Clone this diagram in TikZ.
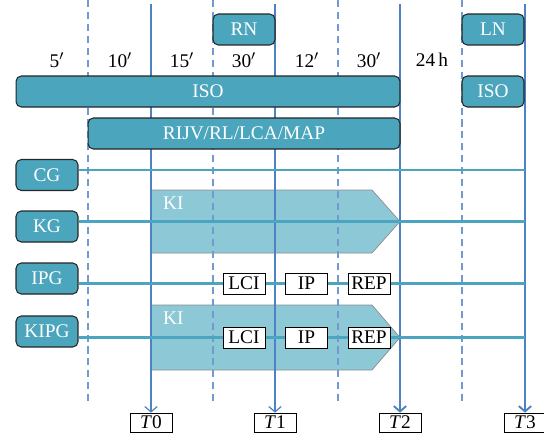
\documentclass[tikz,border=0pt]{standalone}
\usepackage{amsmath}
\usepackage{fontspec}
\setmainfont{Liberation Serif}
\usepackage{xcolor}
\usetikzlibrary{positioning, calc, arrows.meta}
\definecolor{boxteal}{RGB}{75,165,189}
\definecolor{kiteal}{RGB}{140,200,214}
\definecolor{lineteal}{RGB}{75,165,192}
\definecolor{timeblue}{RGB}{79,129,197}

\begin{document}
\begin{tikzpicture}[
    x=0.02cm, y=-0.02cm,
    font=\fontsize{11}{13}\selectfont,
    stage/.style={draw=black!85, fill=boxteal, rounded corners=3pt, text=white, minimum height=0.62cm, minimum width=1.24cm, inner sep=1pt, line width=0.6pt},
    tag/.style={draw, fill=white, minimum width=0.84cm, minimum height=0.42cm, inner sep=1pt},
    tmark/.style={draw, fill=white, minimum width=0.84cm, minimum height=0.38cm, inner sep=1pt},
    gridline/.style={timeblue!80, line width=0.6pt, dash pattern=on 4pt off 2.8pt},
    tline/.style={timeblue, line width=0.7pt, -{Straight Barb[length=3pt,width=7pt]}},
    hline/.style={lineteal, line width=1.2pt},
    kishape/.style={draw=black!45, fill=kiteal},
    kitext/.style={text=white, anchor=west}
]
    \useasboundingbox (0,0) rectangle (544,433);

    % KI phases
    \draw[kishape] (151,190) -- (372,190) -- (400,221.5) -- (372,253) -- (151,253) -- cycle;
    \node[kitext] (ki1) at (157,203) {KI};
    \draw[kishape] (151,305) -- (372,305) -- (400,337.5) -- (372,370) -- (151,370) -- cycle;
    \node[kitext] (ki2) at (157,318) {KI};

    % Grid
    \foreach \x in {88,213,338,462}
        \draw[gridline] (\x,0) -- (\x,401);

    % Time marks
    \foreach \n/\x in {0/151,1/275,2/400,3/525} {
        \node[tmark] (t\n) at (\x,422.5) {\textit{T}\n};
        \coordinate (top\n) at (\x,4);
    }
    \draw[tline] (top0) -- (t0.north);
    \draw[tline] (top1) -- (t1.north);
    \draw[tline, line width=1.1pt] (top2) -- (t2.north);
    \draw[tline, line width=1.1pt] (top3) -- (t3.north);

    % Interval labels
    \foreach \x/\lab in {57/5$'$, 120/10$'$, 182/15$'$, 244/30$'$, 307/12$'$, 369/30$'$, 432/24\,h}
        \node (lab\x) at (\x,60) {\lab};

    % Stages
    \node[stage] (rn) at (244,29.5) {RN};
    \node[stage] (ln) at (493,29.5) {LN};
    \node[stage, minimum width=7.68cm] (iso) at (208,91.5) {ISO};
    \node[stage] (iso2) at (493,91.5) {ISO};
    \node[stage, minimum width=6.24cm] (rijv) at (244,133.5) {RIJV/RL/LCA/MAP};
    \node[stage] (cg) at (47,175) {CG};
    \node[stage] (kg) at (47,226.5) {KG};
    \node[stage] (ipg) at (47,278.5) {IPG};
    \node[stage] (kipg) at (47,331.5) {KIPG};

    % Rows
    \coordinate (rowcg) at (525,170);
    \coordinate (rowkg) at (525,221.5);
    \coordinate (rowipg) at (525,283.5);
    \coordinate (rowkipg) at (525,337.5);
    \draw[hline] (cg.east |- rowcg) -- (rowcg);
    \draw[hline] (kg.east |- rowkg) -- (rowkg);
    \draw[hline] (ipg.east |- rowipg) -- (rowipg);
    \draw[hline] (kipg.east |- rowkipg) -- (rowkipg);

    % Steps
    \node[tag] (lci1) at (244,283.5) {LCI};
    \node[tag] (ip1) at (306.5,283.5) {IP};
    \node[tag] (rep1) at (369,283.5) {REP};
    \node[tag] (lci2) at (244,337.5) {LCI};
    \node[tag] (ip2) at (306.5,337.5) {IP};
    \node[tag] (rep2) at (369,337.5) {REP};

\end{tikzpicture}
\end{document}
